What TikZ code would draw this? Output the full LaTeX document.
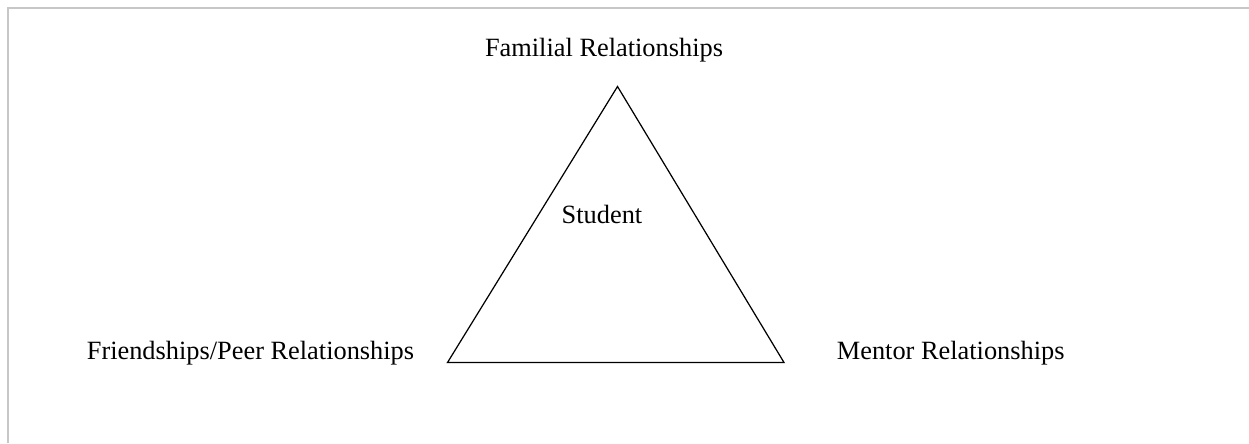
\documentclass[tikz,border=0pt]{standalone}
\usepackage{fontspec}
\setmainfont{Liberation Serif}
\usetikzlibrary{positioning}

\tikzstyle{rel}=[inner sep=0pt, font=\fontsize{15}{18}\selectfont]

\begin{document}
\begin{tikzpicture}

\useasboundingbox (0,0) rectangle (24.98,-8.86);

% FRAME

\draw[black!22, line width=0.6pt] (0.16,-8.86) -- (0.16,-0.16) -- (24.98,-0.16);

% TRIANGLE

\coordinate (top) at (12.35,-1.73);
\coordinate (left) at (8.95,-7.25);
\coordinate (right) at (15.68,-7.25);
\draw[line width=0.7pt] (top) -- (left) -- (right) -- cycle;

% LABELS

\node[rel, anchor=base] (familial) at (12.08,-1.12) {Familial Relationships};
\node[rel, anchor=base] (student) at (12.04,-4.46) {Student};
\node[rel, anchor=base west] (peer) at (1.73,-7.19) {Friendships/Peer Relationships};
\node[rel, anchor=base west] (mentor) at (16.73,-7.19) {Mentor Relationships};

\end{tikzpicture}
\end{document}
